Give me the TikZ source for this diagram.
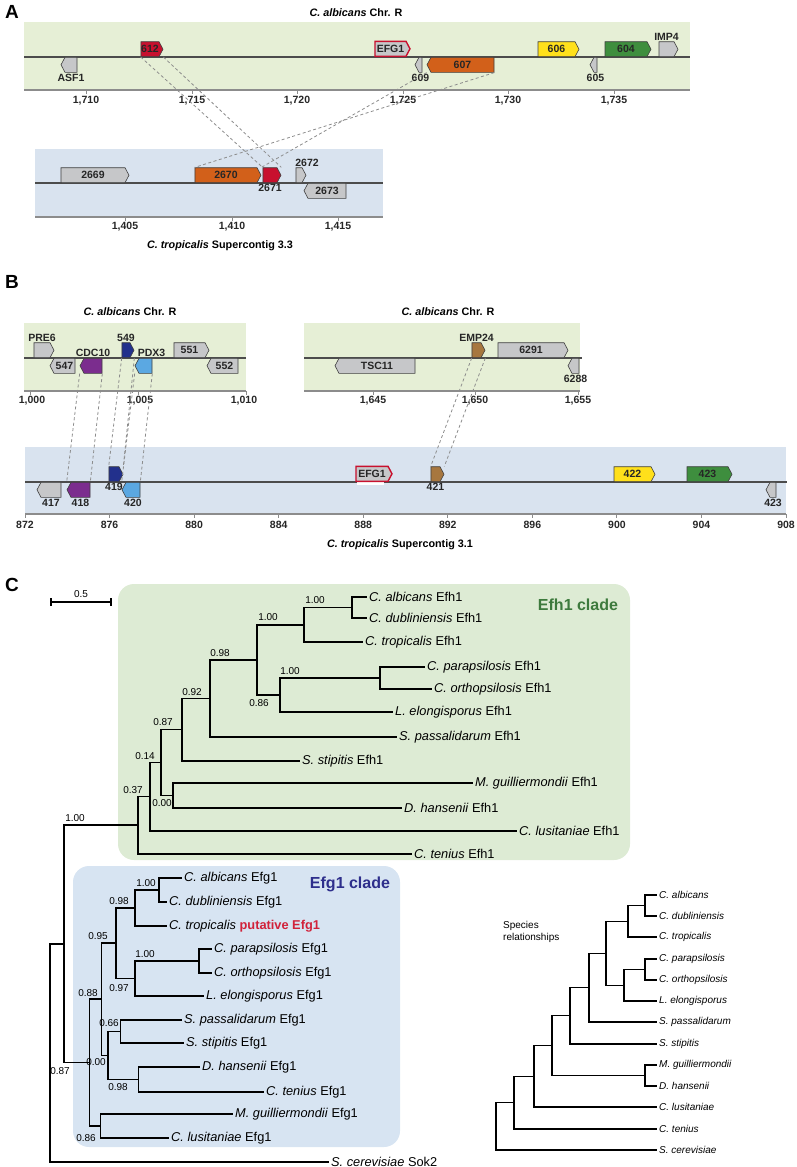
\documentclass[tikz,border=0pt]{standalone}
\usepackage{fontspec}
\setmainfont{Liberation Sans}
\usetikzlibrary{shapes.symbols}

\definecolor{greenbg}{HTML}{E6EFD6}
\definecolor{bluebg}{HTML}{D9E3EF}
\definecolor{cladegreen}{HTML}{DDEBD4}
\definecolor{cladeblue}{HTML}{D7E4F2}
\definecolor{genegray}{HTML}{C6C7C9}
\definecolor{genered}{HTML}{C8102E}
\definecolor{geneorange}{HTML}{D2601A}
\definecolor{geneyellow}{HTML}{FFE01B}
\definecolor{genegreen}{HTML}{3E8E3E}
\definecolor{genepurple}{HTML}{7B2D8E}
\definecolor{genenavy}{HTML}{22308C}
\definecolor{genesky}{HTML}{5BA8E2}
\definecolor{genebrown}{HTML}{A7773F}
\definecolor{efhtext}{HTML}{3D7A3D}
\definecolor{efgtext}{HTML}{2E2F8C}
\definecolor{putred}{HTML}{D1213A}

\newcommand{\gfont}{\fontsize{10.5}{12}\selectfont\bfseries}
\newcommand{\tfont}{\fontsize{10.8}{13}\selectfont\bfseries}
\newcommand{\lfont}{\fontsize{12.8}{15}\selectfont}
\newcommand{\bsfont}{\fontsize{10}{12}\selectfont}
\newcommand{\sfont}{\fontsize{10}{12}\selectfont}

\tikzset{
  gene/.style={shape=signal, draw=black!75, line width=0.6pt, minimum height=15pt,
    inner sep=0pt, font=\gfont, text=black!85, signal pointer angle=124},
  fwd/.style={gene, signal to=east, anchor=south},
  rev/.style={gene, signal to=west, anchor=north},
  efg/.style={fwd, fill=genegray, draw=genered, line width=1.4pt},
  lbl/.style={font=\gfont, inner sep=1pt, text=black!85},
  chrom/.style={line width=1.3pt, draw=black!70},
  axisline/.style={line width=1.8pt, draw=black!45},
  tick/.style={line width=1pt, draw=black!45},
  axlbl/.style={font=\gfont, inner sep=0pt, text=black!85},
  title/.style={font=\tfont, inner sep=0pt},
  panel/.style={font=\fontsize{19}{22}\selectfont\bfseries, inner sep=0pt},
  link/.style={draw=black!45, line width=0.8pt, dash pattern=on 3pt off 2.5pt},
  branch/.style={line width=1.8pt},
  leaf/.style={anchor=west, inner sep=2pt, font=\lfont},
  bs/.style={font=\bsfont, inner sep=0pt},
  sleaf/.style={anchor=west, inner sep=2pt, font=\sfont\itshape},
  sbranch/.style={line width=1.2pt},
}

\begin{document}
\begin{tikzpicture}[x=1pt, y=-1pt]
\useasboundingbox (0,0) rectangle (797,1167);

% ---------- A ----------
\node[panel] (pA) at (12,12) {A};
\node[title] (tA1) at (356,13) {\textit{C. albicans} Chr. R};
\fill[greenbg] (24,22) rectangle (690,90);
\draw[chrom] (24,57) -- (690,57);
\draw[axisline] (24,90) -- (690,90);
\foreach \x/\t in {86/{1,710},192/{1,715},297/{1,720},403/{1,725},508/{1,730},614/{1,735}} {
  \draw[tick] (\x,90) -- (\x,94);
  \node[axlbl] at (\x,101) {\t};
}
\node[fwd, fill=genered, minimum width=22pt] (g612) at (150,57) {612};
\node[efg, minimum width=35pt] (efgA) at (390.5,57) {EFG1};
\node[fwd, fill=geneyellow, minimum width=41pt] (g606) at (556.5,57) {606};
\node[fwd, fill=genegreen, minimum width=46pt] (g604) at (626,57) {604};
\node[fwd, fill=genegray, minimum width=19pt, label={[lbl]above:IMP4}] (imp4) at (666.5,57) {};
\node[rev, fill=genegray, minimum width=16pt, label={[lbl]below:ASF1}] (asf1) at (71,57) {};
\node[rev, fill=genegray, minimum width=7pt, label={[lbl]below:609}] (g609) at (420.5,57) {};
\node[rev, fill=geneorange, minimum width=67pt] (g607) at (462.5,57) {607};
\node[rev, fill=genegray, minimum width=7pt, label={[lbl]below:605}] (g605) at (595.5,57) {};

\fill[bluebg] (35,149) rectangle (383,217);
\draw[chrom] (35,183) -- (383,183);
\draw[axisline] (35,217) -- (383,217);
\foreach \x/\t in {125/{1,405},232/{1,410},338/{1,415}} {
  \draw[tick] (\x,217) -- (\x,221);
  \node[axlbl] at (\x,227) {\t};
}
\node[fwd, fill=genegray, minimum width=68pt] (g2669) at (93,183) {2669};
\node[fwd, fill=geneorange, minimum width=66pt] (g2670) at (226,183) {2670};
\node[fwd, fill=genered, minimum width=18pt, label={[lbl]below:2671}] (g2671) at (270,183) {};
\node[fwd, fill=genegray, minimum width=10pt, label={[lbl, xshift=8pt]above:2672}] (g2672) at (299,183) {};
\node[rev, fill=genegray, minimum width=42pt] (g2673) at (327,183) {2673};
\node[title] (tA2) at (220,246) {\textit{C. tropicalis} Supercontig 3.3};

\draw[link] (g612.west |- g612.south) -- (g2671.west |- g2671.north);
\draw[link] (g612.east |- g612.south) -- (g2671.east |- g2671.north);
\draw[link] (g607.west |- g607.south) -- (g2670.east |- g2670.north);
\draw[link] (g607.east |- g607.south) -- (g2670.west |- g2670.north);

% ---------- B ----------
\node[panel] (pB) at (12,282) {B};
\node[title] (tB1) at (130,312) {\textit{C. albicans} Chr. R};
\node[title] (tB2) at (448,312) {\textit{C. albicans} Chr. R};
\fill[greenbg] (24,323) rectangle (246,391);
\draw[chrom] (24,358) -- (246,358);
\draw[axisline] (24,391) -- (246,391);
\foreach \x/\t in {30/{1,000},138/{1,005},246/{1,010}} {
  \draw[tick] (\x,391) -- (\x,395);
}
\node[axlbl] at (32,401) {1,000};
\node[axlbl] at (140,401) {1,005};
\node[axlbl] at (244,401) {1,010};
\fill[greenbg] (304,323) rectangle (580,391);
\draw[chrom] (304,358) -- (582,358);
\draw[axisline] (304,391) -- (580,391);
\foreach \x/\t in {373/{1,645},475/{1,650},578/{1,655}} {
  \draw[tick] (\x,391) -- (\x,395);
  \node[axlbl] at (\x,401) {\t};
}
\node[fwd, fill=genegray, minimum width=20pt, label={[lbl]above:PRE6}] (pre6) at (42,358) {};
\node[rev, fill=genegray, minimum width=25pt] (g547) at (64.5,358) {547};
\node[rev, fill=genepurple, minimum width=22pt, label={[lbl]above:CDC10}] (cdc10) at (93,358) {};
\node[fwd, fill=genenavy, minimum width=12pt, label={[lbl]above:549}] (g549) at (126,358) {};
\node[rev, fill=genesky, minimum width=17pt, label={[lbl, xshift=6pt]above:PDX3}] (pdx3) at (145.5,358) {};
\node[fwd, fill=genegray, minimum width=35pt] (g551) at (189.5,358) {551};
\node[rev, fill=genegray, minimum width=31pt] (g552) at (224.5,358) {552};
\node[rev, fill=genegray, minimum width=80pt] (tsc11) at (377,358) {TSC11};
\node[fwd, fill=genebrown, minimum width=13pt, label={[lbl]above:EMP24}] (emp24) at (476.5,358) {};
\node[fwd, fill=genegray, minimum width=70pt] (g6291) at (531,358) {6291};
\node[rev, fill=genegray, minimum width=11pt, label={[lbl]below:6288}] (g6288) at (575.5,358) {};

\fill[bluebg] (25,447) rectangle (786,514);
\draw[chrom] (25,482) -- (787,482);
\draw[axisline] (25,514) -- (786,514);
\foreach \k in {0,...,9} {
  \pgfmathsetmacro{\xx}{25+84.56*\k}
  \pgfmathtruncatemacro{\kb}{872+4*\k}
  \draw[tick] (\xx,514) -- (\xx,518);
  \node[axlbl] at (\xx,525) {\kb};
}
\node[rev, fill=genegray, minimum width=24pt, label={[lbl]below:417}] (g417) at (51,482) {};
\node[rev, fill=genepurple, minimum width=23pt, label={[lbl]below:418}] (g418) at (80.5,482) {};
\node[fwd, fill=genenavy, minimum width=14pt, label={[lbl]below:419}] (g419) at (114,482) {};
\node[rev, fill=genesky, minimum width=18pt, label={[lbl]below:420}] (g420) at (133,482) {};
\fill[white] (357,481) rectangle (384,485);
\node[efg, minimum width=36pt] (efgB) at (372,482) {EFG1};
\node[fwd, fill=genebrown, minimum width=13pt, label={[lbl]below:421}] (g421) at (435.5,482) {};
\node[fwd, fill=geneyellow, minimum width=41pt] (g422) at (632.5,482) {422};
\node[fwd, fill=genegreen, minimum width=45pt] (g423) at (707.5,482) {423};
\node[rev, fill=genegray, minimum width=10pt, label={[lbl]below:423}] (g423b) at (773,482) {};
\node[title] (tB3) at (400,545) {\textit{C. tropicalis} Supercontig 3.1};

\draw[link] (cdc10.west |- cdc10.south) -- (g418.west |- g418.north);
\draw[link] (cdc10.east |- cdc10.south) -- (g418.east |- g418.north);
\draw[link] (g549.west |- g549.south) -- (g419.west |- g419.north);
\draw[link] (g549.east |- g549.south) -- (g419.east |- g419.north);
\draw[link] (pdx3.west |- pdx3.south) -- (g420.west |- g420.north);
\draw[link] (pdx3.east |- pdx3.south) -- (g420.east |- g420.north);
\draw[link] (emp24.west |- emp24.south) -- (g421.west |- g421.north);
\draw[link] (emp24.east |- emp24.south) -- (g421.east |- g421.north);

% ---------- C ----------
\node[panel] (pC) at (12,585) {C};
\coordinate (sbL) at (51,602);
\coordinate (sbR) at (111,602);
\draw[line width=1.2pt] (sbL) -- (sbR);
\draw[line width=1.2pt] ([yshift=-4pt]sbL) -- ([yshift=4pt]sbL);
\draw[line width=1.2pt] ([yshift=-4pt]sbR) -- ([yshift=4pt]sbR);
\node[bs] (sbt) at (81,594) {0.5};

\fill[cladegreen, rounded corners=16pt] (118,584) rectangle (630,860);
\fill[cladeblue, rounded corners=16pt] (73,866) rectangle (400,1147);
\node[font=\fontsize{16}{19}\selectfont\bfseries, text=efhtext] (efhc) at (578,605) {Efh1 clade};
\node[font=\fontsize{16}{19}\selectfont\bfseries, text=efgtext] (efgc) at (350,884) {Efg1 clade};

% Efh1 leaves
\node[leaf] (hAlb) at (367,597) {\textit{C. albicans} Efh1};
\node[leaf] (hDub) at (367,618) {\textit{C. dubliniensis} Efh1};
\node[leaf] (hTro) at (363,642) {\textit{C. tropicalis} Efh1};
\node[leaf] (hPar) at (425,667) {\textit{C. parapsilosis} Efh1};
\node[leaf] (hOrt) at (432,689) {\textit{C. orthopsilosis} Efh1};
\node[leaf] (hLel) at (393,712) {\textit{L. elongisporus} Efh1};
\node[leaf] (hPas) at (397,737) {\textit{S. passalidarum} Efh1};
\node[leaf] (hSti) at (300,761) {\textit{S. stipitis} Efh1};
\node[leaf] (hGui) at (473,783) {\textit{M. guilliermondii} Efh1};
\node[leaf] (hHan) at (402,808) {\textit{D. hansenii} Efh1};
\node[leaf] (hLus) at (517,831) {\textit{C. lusitaniae} Efh1};
\node[leaf] (hTen) at (412,854) {\textit{C. tenius} Efh1};
% Efh1 inner
\coordinate (h10) at (352,607.5);
\coordinate (h8) at (304,625);
\coordinate (h11) at (380,678);
\coordinate (h9) at (280,695);
\coordinate (h7) at (257,660);
\coordinate (h6) at (210,698.5);
\coordinate (h4) at (182,729.5);
\coordinate (h5) at (173,795.5);
\coordinate (h3) at (161,762.5);
\coordinate (h2) at (150,796.5);
\coordinate (h1) at (138,825);
\draw[branch] (h10) |- (hAlb.west);
\draw[branch] (h10) |- (hDub.west);
\draw[branch] (h8) |- (h10);
\draw[branch] (h8) |- (hTro.west);
\draw[branch] (h11) |- (hPar.west);
\draw[branch] (h11) |- (hOrt.west);
\draw[branch] (h9) |- (h11);
\draw[branch] (h9) |- (hLel.west);
\draw[branch] (h7) |- (h8);
\draw[branch] (h7) |- (h9);
\draw[branch] (h6) |- (h7);
\draw[branch] (h6) |- (hPas.west);
\draw[branch] (h4) |- (h6);
\draw[branch] (h4) |- (hSti.west);
\draw[branch] (h5) |- (hGui.west);
\draw[branch] (h5) |- (hHan.west);
\draw[branch] (h3) |- (h4);
\draw[branch] (h3) |- (h5);
\draw[branch] (h2) |- (h3);
\draw[branch] (h2) |- (hLus.west);
\draw[branch] (h1) |- (h2);
\draw[branch] (h1) |- (hTen.west);
\node[bs] at (315,600) {1.00};
\node[bs] at (268,617) {1.00};
\node[bs] at (290,671) {1.00};
\node[bs] at (259,703) {0.86};
\node[bs] at (220,653) {0.98};
\node[bs] at (192,692) {0.92};
\node[bs] at (163,722) {0.87};
\node[bs] at (162,803) {0.00};
\node[bs] at (145,756) {0.14};
\node[bs] at (133,790) {0.37};
\node[bs] at (75,818) {1.00};

% Efg1 leaves
\node[leaf] (eAlb) at (182,878) {\textit{C. albicans} Efg1};
\node[leaf] (eDub) at (167,902) {\textit{C. dubliniensis} Efg1};
\node[leaf] (eTro) at (167,926) {\textit{C. tropicalis} {\bfseries\color{putred}putative Efg1}};
\node[leaf] (ePar) at (212,949) {\textit{C. parapsilosis} Efg1};
\node[leaf] (eOrt) at (212,973) {\textit{C. orthopsilosis} Efg1};
\node[leaf] (eLel) at (204,996) {\textit{L. elongisporus} Efg1};
\node[leaf] (ePas) at (182,1020) {\textit{S. passalidarum} Efg1};
\node[leaf] (eSti) at (184,1043) {\textit{S. stipitis} Efg1};
\node[leaf] (eHan) at (200,1067) {\textit{D. hansenii} Efg1};
\node[leaf] (eTen) at (264,1092) {\textit{C. tenius} Efg1};
\node[leaf] (eGui) at (233,1114) {\textit{M. guilliermondii} Efg1};
\node[leaf] (eLus) at (169,1138) {\textit{C. lusitaniae} Efg1};
\node[leaf] (sok2) at (329,1162) {\textit{S. cerevisiae} Sok2};
% Efg1 inner
\coordinate (e1) at (159,890);
\coordinate (e2) at (135,908);
\coordinate (e3) at (199,961);
\coordinate (e4) at (135,978.5);
\coordinate (e5) at (116,943);
\coordinate (e6) at (120.5,1031.5);
\coordinate (e7) at (138.5,1079.5);
\coordinate (e8) at (108,1055.5);
\coordinate (e9) at (101.5,999);
\coordinate (e10) at (100.5,1126);
\coordinate (e11) at (89.5,1062.5);
\coordinate (hN) at (64,943.75);
\coordinate (rt) at (50,1053);
\draw[branch] (e1) |- (eAlb.west);
\draw[branch] (e1) |- (eDub.west);
\draw[branch] (e2) |- (e1);
\draw[branch] (e2) |- (eTro.west);
\draw[branch] (e3) |- (ePar.west);
\draw[branch] (e3) |- (eOrt.west);
\draw[branch] (e4) |- (e3);
\draw[branch] (e4) |- (eLel.west);
\draw[branch] (e5) |- (e2);
\draw[branch] (e5) |- (e4);
\draw[branch] (e6) |- (ePas.west);
\draw[branch] (e6) |- (eSti.west);
\draw[branch] (e7) |- (eHan.west);
\draw[branch] (e7) |- (eTen.west);
\draw[branch] (e8) |- (e6);
\draw[branch] (e8) |- (e7);
\draw[branch] (e9) |- (e5);
\draw[branch] (e9) |- (e8);
\draw[branch] (e10) |- (eGui.west);
\draw[branch] (e10) |- (eLus.west);
\draw[branch] (e11) |- (e9);
\draw[branch] (e11) |- (e10);
\draw[branch] (hN) |- (h1);
\draw[branch] (hN) |- (e11);
\draw[branch] (rt) |- (hN);
\draw[branch] (rt) |- (sok2.west);
\node[bs] at (146,883) {1.00};
\node[bs] at (119,901) {0.98};
\node[bs] at (145,954) {1.00};
\node[bs] at (119,988) {0.97};
\node[bs] at (98,936) {0.95};
\node[bs] at (88,993) {0.88};
\node[bs] at (109,1023) {0.66};
\node[bs] at (96,1062) {0.00};
\node[bs] at (118,1087) {0.98};
\node[bs] at (60,1071) {0.87};
\node[bs] at (86,1138) {0.86};

% species relationships
\node[anchor=west, align=left, font=\sfont, inner sep=0pt] (srel) at (503,932) {Species\\relationships};
\node[sleaf] (sAlb) at (657,895) {C. albicans};
\node[sleaf] (sDub) at (657,916) {C. dubliniensis};
\node[sleaf] (sTro) at (657,937) {C. tropicalis};
\node[sleaf] (sPar) at (657,959) {C. parapsilosis};
\node[sleaf] (sOrt) at (657,980) {C. orthopsilosis};
\node[sleaf] (sLel) at (657,1001) {L. elongisporus};
\node[sleaf] (sPas) at (657,1022) {S. passalidarum};
\node[sleaf] (sSti) at (657,1044) {S. stipitis};
\node[sleaf] (sGui) at (657,1065) {M. guilliermondii};
\node[sleaf] (sHan) at (657,1086) {D. hansenii};
\node[sleaf] (sLus) at (657,1107) {C. lusitaniae};
\node[sleaf] (sTen) at (657,1129) {C. tenius};
\node[sleaf] (sCer) at (657,1150) {S. cerevisiae};
\coordinate (s1) at (645,905.5);
\coordinate (s2) at (628,921.25);
\coordinate (s3) at (645,969.5);
\coordinate (s4) at (624,985.25);
\coordinate (s5) at (606,953.25);
\coordinate (s6) at (589,987.6);
\coordinate (s7) at (570,1015.8);
\coordinate (s8) at (645,1075.5);
\coordinate (s9) at (552,1045.7);
\coordinate (s10) at (534,1076.3);
\coordinate (s11) at (514,1102.7);
\coordinate (s12) at (496,1126.3);
\draw[sbranch] (s1) |- (sAlb.west);
\draw[sbranch] (s1) |- (sDub.west);
\draw[sbranch] (s2) |- (s1);
\draw[sbranch] (s2) |- (sTro.west);
\draw[sbranch] (s3) |- (sPar.west);
\draw[sbranch] (s3) |- (sOrt.west);
\draw[sbranch] (s4) |- (s3);
\draw[sbranch] (s4) |- (sLel.west);
\draw[sbranch] (s5) |- (s2);
\draw[sbranch] (s5) |- (s4);
\draw[sbranch] (s6) |- (s5);
\draw[sbranch] (s6) |- (sPas.west);
\draw[sbranch] (s7) |- (s6);
\draw[sbranch] (s7) |- (sSti.west);
\draw[sbranch] (s8) |- (sGui.west);
\draw[sbranch] (s8) |- (sHan.west);
\draw[sbranch] (s9) |- (s7);
\draw[sbranch] (s9) |- (s8);
\draw[sbranch] (s10) |- (s9);
\draw[sbranch] (s10) |- (sLus.west);
\draw[sbranch] (s11) |- (s10);
\draw[sbranch] (s11) |- (sTen.west);
\draw[sbranch] (s12) |- (s11);
\draw[sbranch] (s12) |- (sCer.west);
\end{tikzpicture}
\end{document}
